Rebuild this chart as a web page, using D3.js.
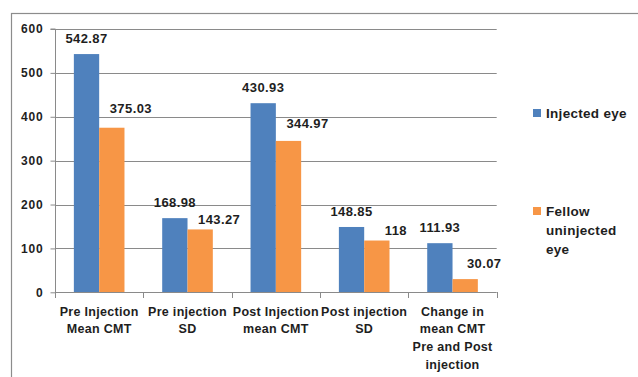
<!DOCTYPE html>
<html>
<head>
<meta charset="utf-8">
<script src="https://cdn.jsdelivr.net/npm/d3@7"></script>
<style>
  html, body { margin: 0; padding: 0; background: #fff; }
  svg { display: block; }
  text { font-family: "Liberation Sans", Arial, sans-serif; font-weight: bold; fill: #1e1e1e; }
</style>
</head>
<body>
<svg id="chart" width="638" height="377"></svg>
<script>
// Categories (multi-line labels) and the two series
const categories = [
  ["Pre Injection", "Mean CMT"],
  ["Pre injection", "SD"],
  ["Post Injection", "mean CMT"],
  ["Post injection", "SD"],
  ["Change in", "mean CMT", "Pre and Post", "injection"]
];
const injectedEye = [542.87, 168.98, 430.93, 148.85, 111.93];
const fellowEye = [375.03, 143.27, 344.97, 118, 30.07];
const seriesNames = ["Injected eye", "Fellow uninjected eye"];
const yTicks = [0, 100, 200, 300, 400, 500, 600];

// Vertical lift (px) of the orange value labels above their bars
const fellowLabelLift = [15, 5, 12.5, 6, 11];

const colors = ["#4F81BD", "#F79646"];
const gridColor = "#8a8a8a";

const svg = d3.select("#chart");

// Outer chart frame (runs past the right and bottom edges)
svg.append("rect")
  .attr("x", 11.5).attr("y", 13.5)
  .attr("width", 700).attr("height", 400)
  .attr("fill", "none").attr("stroke", "#8c8c8c").attr("stroke-width", 1.2);

const plot = { left: 55, right: 496.7, top: 29, bottom: 292.3 };

const keys = categories.map((c, i) => i);
const x0 = d3.scaleBand()
  .domain(keys)
  .range([plot.left, plot.right])
  .paddingInner(0.427)
  .paddingOuter(0.2135);
const x1 = d3.scaleBand()
  .domain([0, 1])
  .range([0, x0.bandwidth()]);
const y = d3.scaleLinear()
  .domain([0, 600])
  .range([plot.bottom, plot.top]);

// Horizontal gridlines
svg.append("g")
  .selectAll("line")
  .data(yTicks.filter(t => t > 0))
  .join("line")
  .attr("x1", plot.left).attr("x2", plot.right)
  .attr("y1", d => Math.round(y(d)) + 0.5).attr("y2", d => Math.round(y(d)) + 0.5)
  .attr("stroke", gridColor).attr("stroke-width", 1);

// Bars
const series = [injectedEye, fellowEye];
const groups = svg.append("g")
  .selectAll("g")
  .data(keys)
  .join("g")
  .attr("transform", i => `translate(${x0(i)},0)`);

groups.selectAll("rect")
  .data(i => series.map((s, k) => ({ k, i, v: s[i] })))
  .join("rect")
  .attr("x", d => x1(d.k))
  .attr("width", x1.bandwidth())
  .attr("y", d => y(d.v))
  .attr("height", d => y(0) - y(d.v))
  .attr("fill", d => colors[d.k]);

// Value labels
groups.selectAll("text.val")
  .data(i => series.map((s, k) => ({ k, i, v: s[i] })))
  .join("text")
  .attr("class", "val")
  .attr("x", d => x1(d.k) + x1.bandwidth() / 2 + (d.k === 1 ? 19 : 0))
  .attr("y", d => y(d.v) - (d.k === 0 ? 11 : fellowLabelLift[d.i]))
  .attr("text-anchor", "middle")
  .attr("font-size", 13)
  .attr("letter-spacing", 0.4)
  .text(d => String(d.v));

// Y axis
const yAxis = d3.axisLeft(y).tickValues(yTicks).tickSize(5).tickPadding(7);
const yg = svg.append("g")
  .attr("transform", `translate(${plot.left + 0.5},0)`)
  .call(yAxis);
yg.select(".domain").attr("stroke", gridColor).attr("d", `M-5,${plot.top}H0V${plot.bottom}`);
yg.selectAll(".tick line").attr("stroke", gridColor);
yg.selectAll(".tick text")
  .attr("font-size", 12)
  .attr("letter-spacing", 0.8)
  .attr("font-family", "Liberation Sans, Arial, sans-serif")
  .attr("font-weight", "bold")
  .attr("fill", "#1e1e1e");

// X axis line and category boundary ticks
const step = x0.step();
svg.append("line")
  .attr("x1", plot.left).attr("x2", plot.right)
  .attr("y1", Math.round(plot.bottom) + 0.5).attr("y2", Math.round(plot.bottom) + 0.5)
  .attr("stroke", gridColor);
svg.append("g")
  .selectAll("line")
  .data(d3.range(categories.length + 1))
  .join("line")
  .attr("x1", i => Math.round(plot.left + i * step) + 0.5)
  .attr("x2", i => Math.round(plot.left + i * step) + 0.5)
  .attr("y1", Math.round(plot.bottom))
  .attr("y2", Math.round(plot.bottom) + 6)
  .attr("stroke", gridColor);

// Category labels
const catText = svg.append("g")
  .selectAll("text")
  .data(keys)
  .join("text")
  .attr("x", i => x0(i) + x0.bandwidth() / 2)
  .attr("y", plot.bottom + 23.5)
  .attr("text-anchor", "middle")
  .attr("font-size", 12.5)
  .attr("letter-spacing", 0.3);
catText.selectAll("tspan")
  .data(i => categories[i].map((line, j) => ({ line, j, i })))
  .join("tspan")
  .attr("x", d => x0(d.i) + x0.bandwidth() / 2)
  .attr("dy", d => d.j === 0 ? 0 : 17.6)
  .text(d => d.line);

// Legend
const legendItems = [
  { name: ["Injected eye"], color: colors[0], y: 109 },
  { name: ["Fellow", "uninjected", "eye"], color: colors[1], y: 207 }
];
const legend = svg.append("g");
legendItems.forEach(item => {
  legend.append("rect")
    .attr("x", 533).attr("y", item.y)
    .attr("width", 8).attr("height", 8)
    .attr("fill", item.color);
  const t = legend.append("text")
    .attr("x", 546).attr("y", item.y + 8.5)
    .attr("font-size", 13.5)
    .attr("letter-spacing", 0.3);
  item.name.forEach((line, j) => {
    t.append("tspan")
      .attr("x", 546)
      .attr("dy", j === 0 ? 0 : 19)
      .text(line);
  });
});
</script>
</body>
</html>
